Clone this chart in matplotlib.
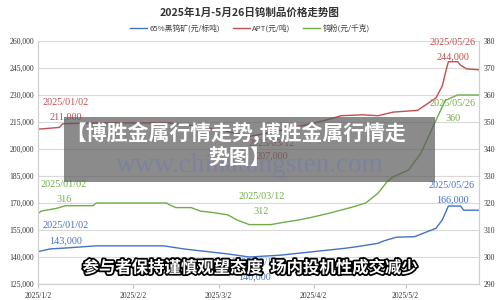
import matplotlib
matplotlib.use("Agg")
import matplotlib.pyplot as plt
import matplotlib.patheffects as pe
from matplotlib.patches import Rectangle
import pandas as pd

plt.rcParams['font.family'] = ['Noto Sans CJK SC', 'DejaVu Sans']

title = "2025年1月-5月26日钨制品价格走势图"
series_names = ["65%黑钨矿(元/标吨)", "APT(元/吨)", "钨粉(元/千克)"]

ore_dates = ["2025-01-02", "2025-01-06", "2025-01-11", "2025-01-21", "2025-02-12", "2025-02-19",
             "2025-03-05", "2025-03-12", "2025-03-22", "2025-04-01", "2025-04-07", "2025-04-12",
             "2025-04-16", "2025-04-23", "2025-04-25", "2025-04-29", "2025-05-05", "2025-05-09",
             "2025-05-12", "2025-05-14", "2025-05-16", "2025-05-20", "2025-05-21", "2025-05-26"]
ore_values = [143000, 144500, 145000, 146200, 146200, 144400,
              141700, 140000, 141000, 142800, 143900, 144800,
              145700, 147600, 149000, 151000, 151300, 154000,
              156000, 160600, 168300, 168300, 166000, 166000]

apt_dates = ["2025-01-02", "2025-01-09", "2025-01-10", "2025-01-21", "2025-02-14", "2025-02-24",
             "2025-03-04", "2025-03-12", "2025-03-20", "2025-04-01", "2025-04-07", "2025-04-11",
             "2025-04-18", "2025-04-23", "2025-04-28", "2025-05-06", "2025-05-09", "2025-05-12",
             "2025-05-14", "2025-05-15", "2025-05-16", "2025-05-19", "2025-05-20", "2025-05-22",
             "2025-05-26"]
apt_values = [211000, 212000, 214000, 214500, 214500, 212500,
              210000, 207000, 209500, 214000, 216500, 218500,
              219000, 218500, 220500, 221500, 225000, 228500,
              235000, 242000, 248500, 248500, 246500, 244500,
              244000]

powder_dates = ["2025-01-02", "2025-01-03", "2025-01-08", "2025-01-11", "2025-01-20", "2025-01-21",
                "2025-02-13", "2025-02-14", "2025-02-16", "2025-02-21", "2025-02-24", "2025-02-28",
                "2025-03-05", "2025-03-08", "2025-03-12", "2025-03-19", "2025-03-24", "2025-03-28",
                "2025-04-01", "2025-04-07", "2025-04-15", "2025-04-19", "2025-04-23", "2025-04-26",
                "2025-04-28", "2025-05-03", "2025-05-07", "2025-05-10", "2025-05-13", "2025-05-15",
                "2025-05-19", "2025-05-26"]
powder_values = [316, 317, 318, 319, 319, 320,
                 320, 319.3, 318.3, 318.3, 317, 316.5,
                 315.6, 313.7, 312, 312, 313, 313.7,
                 314.6, 316.2, 318.6, 320, 323.6, 327.9,
                 329.7, 332.2, 338.4, 345.8, 353.2, 358,
                 360, 360]

left_ticks = [125000, 140000, 155000, 170000, 185000, 200000, 215000, 230000, 245000, 260000]
right_ticks = [290, 300, 310, 320, 330, 340, 350, 360, 370, 380]
x_tick_dates = ["2025-01-02", "2025-02-02", "2025-03-02", "2025-04-02", "2025-05-02"]
x_tick_labels = ["2025/1/2", "2025/2/2", "2025/3/2", "2025/4/2", "2025/5/2"]

box_line1 = "【博胜金属行情走势,博胜金属行情走"
box_line2 = "势图】"
watermark = "www.chinatungsten.com"
subtitle = "参与者保持谨慎观望态度  场内投机性成交减少"

c_blue = "#4472C4"
c_red = "#C0504D"
c_green = "#70AD47"

fig = plt.figure(figsize=(5, 3), dpi=100)
fig.patch.set_facecolor("white")
ax = fig.add_axes([0.076, 0.0533, 0.882, 0.81])
ax2 = ax.twinx()

od = pd.to_datetime(ore_dates)
ad = pd.to_datetime(apt_dates)
pdd = pd.to_datetime(powder_dates)

l1, = ax.plot(od, ore_values, color=c_blue, lw=1.0)
l2, = ax.plot(ad, apt_values, color=c_red, lw=1.0)
l3, = ax2.plot(pdd, powder_values, color=c_green, lw=1.0)

ax.set_xlim(pd.Timestamp("2025-01-02"), pd.Timestamp("2025-05-26"))
ax.set_ylim(125000, 260000)
ax2.set_ylim(290, 380)
ax.set_yticks(left_ticks)
ax.set_yticklabels([f"{v:,}" for v in left_ticks])
ax2.set_yticks(right_ticks)
ax2.set_yticklabels([str(v) for v in right_ticks])
ax.set_xticks(pd.to_datetime(x_tick_dates))
ax.set_xticklabels(x_tick_labels)

serif = ['Liberation Serif', 'Noto Sans CJK SC']
for lab in ax.get_yticklabels() + ax.get_xticklabels() + ax2.get_yticklabels():
    lab.set_fontfamily(serif)
    lab.set_fontsize(5.5)
    lab.set_color("#333333")

ax.grid(axis='y', color="#d9d9d9", lw=0.8)
ax.set_axisbelow(True)
ax.tick_params(axis='y', length=0, pad=3)
ax2.tick_params(axis='y', length=0, pad=3)
ax.tick_params(axis='x', length=3, color="#bfbfbf", pad=3)
for a in (ax, ax2):
    for s in a.spines.values():
        s.set_color("#d0d0d0")
        s.set_linewidth(0.8)
    a.spines['top'].set_visible(False)

fig.text(0.5, 0.958, title, ha='center', va='center', fontsize=7.6, fontweight='bold', color="#333333")
fig.legend([l1, l2, l3], series_names, loc='center', bbox_to_anchor=(0.5, 0.905), ncol=3,
           frameon=False, fontsize=5.6, handlelength=2.2, handletextpad=0.3, columnspacing=1.6,
           labelcolor="#404040")


def label(a, d, v, lines, color, dx, dys):
    for txt, dy in zip(lines, dys):
        a.annotate(txt, (pd.Timestamp(d), v), xytext=(dx, dy), textcoords='offset pixels',
                   ha='center', va='center', fontsize=7.3, color=color, family=serif)


label(ax, apt_dates[0], apt_values[0], ["2025/01/02", "211,000"], c_red, 28, [27, 12])
label(ax2, powder_dates[0], powder_values[0], ["2025/01/02", "316"], c_green, 26, [29, 14])
label(ax, ore_dates[0], ore_values[0], ["2025/01/02", "143,000"], c_blue, 28, [26, 11])
label(ax, "2025-03-12", 207000, ["2025/03/12", "207,000"], c_red, 22, [-7, -19])
label(ax2, "2025-03-12", 312, ["2025/03/12", "312"], c_green, 12, [28, 13])
label(ax, "2025-03-12", 140000, ["2025/03/12", "140,000"], c_blue, 5, [-5, -20])
label(ax, apt_dates[-1], apt_values[-1], ["2025/05/26", "244,000"], c_red, -26, [27, 13])
label(ax2, powder_dates[-1], powder_values[-1], ["2025/05/26", "360"], c_green, -26, [-8, -23])
label(ax, ore_dates[-1], ore_values[-1], ["2025/05/26", "166,000"], c_blue, -27, [25, 10])

# overlay box
fig.patches.append(Rectangle((0.128, 0.3933), 0.742, 0.2167, transform=fig.transFigure,
                             facecolor="#5a5a5a", alpha=0.7, edgecolor='none', zorder=5))
fig.text(0.5, 0.45, watermark, ha='center', va='center', fontsize=19.5, family=['Liberation Serif'],
         color="#6f7bb0", alpha=0.55, zorder=6)
fig.text(0.472, 0.557, box_line1, ha='center', va='center', fontsize=15, fontweight='bold',
         color='white', zorder=7)
fig.text(0.48, 0.477, box_line2, ha='center', va='center', fontsize=15, fontweight='bold',
         color='white', zorder=7)
fig.text(0.5, 0.107, subtitle, ha='center', va='center', fontsize=11.8, fontweight='bold', color='white',
         zorder=8, path_effects=[pe.withStroke(linewidth=2.5, foreground='black')])

fig.savefig("out.png", dpi=100)
